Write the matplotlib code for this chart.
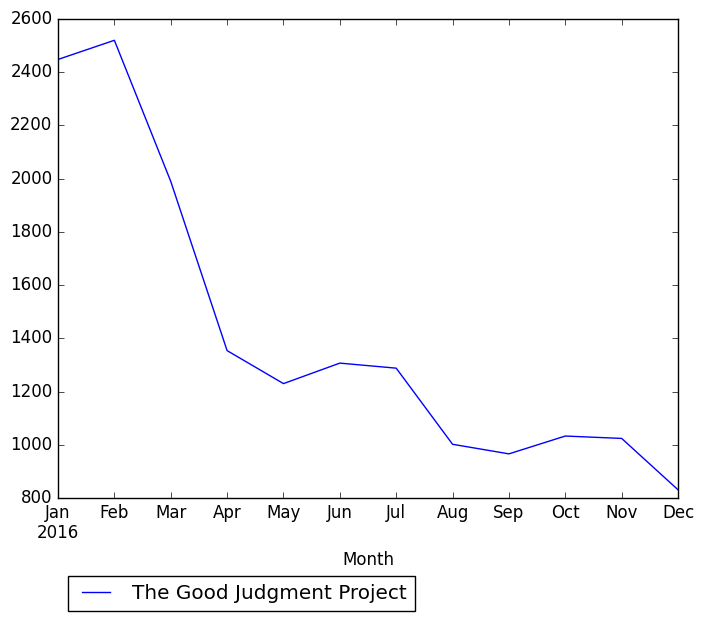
import matplotlib
matplotlib.use("Agg")
import matplotlib.pyplot as plt

plt.style.use("classic")

# dados mensais (2016)
meses = ["Jan\n2016", "Feb", "Mar", "Apr", "May", "Jun", "Jul",
         "Aug", "Sep", "Oct", "Nov", "Dec"]
valores = [2448, 2520, 1990, 1354, 1230, 1307, 1288, 1002, 966, 1033, 1024, 831]
serie = "The Good Judgment Project"

fig = plt.figure(figsize=(7.03, 6.21), dpi=100)
ax = fig.add_axes([0.0825, 0.198, 0.882, 0.7714])

x = list(range(len(valores)))
ax.plot(x, valores, color="blue", label=serie)

ax.set_xlim(0, len(valores) - 1)
ax.set_ylim(800, 2600)
ax.set_xticks(x)
ax.set_xticklabels(meses)
ax.set_xlabel("Month", labelpad=6)

ax.legend(loc="upper left", bbox_to_anchor=(0.016, -0.163), borderaxespad=0)

fig.savefig("out.png", dpi=100)
